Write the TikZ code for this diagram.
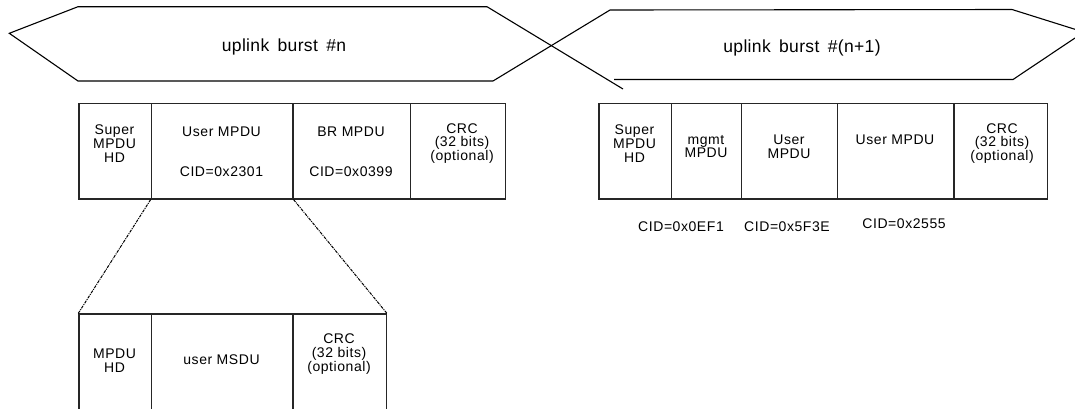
\documentclass[tikz,border=0pt]{standalone}
\usepackage{fontspec}
\setmainfont{Liberation Sans}
\newfontfamily\boxfont[LetterSpace=4]{Liberation Sans}
\newfontfamily\burstfont[LetterSpace=2,WordSpace=1.6]{Liberation Sans}
\begin{document}
\begin{tikzpicture}[x=1pt,y=-1pt,
  hexline/.style={draw=black,line width=1.1pt},
  cell/.style={draw=black!85,line width=1.2pt,inner sep=0pt,anchor=north west},
  txt/.style={inner sep=0pt,align=center,font=\boxfont\fontsize{14}{13.8}\selectfont},
  big/.style={inner sep=0pt,font=\burstfont\fontsize{17.5}{20}\selectfont},
  zoomline/.style={draw=black,line width=1pt,dash pattern=on 3pt off 1pt on 1pt off 1pt}]
\useasboundingbox (0,0) rectangle (1075,408);
\clip (0,0) rectangle (1075,408);
\fill[white] (0,0) rectangle (1075,408);

% burst hexagons
\draw[hexline] (487,6.7) -- (78,6.7) -- (9.3,33.3) -- (78,81) -- (493,81);
\draw[hexline] (487,6.7) -- (623,89);
\draw[hexline] (493,81) -- (610,10) -- (1012,9.5) -- (1075,29.3);
\draw[hexline] (614,79.5) -- (1013,79.5) -- (1075,38);
\node[big] (b1) at (284,47) {uplink burst \#n};
\node[big] (b2) at (802,48) {uplink burst \#(n+1)};

% upper left frame
\node[cell,minimum width=72.4pt,minimum height=95.6pt] (ua) at (78.3,102.7) {};
\node[cell,minimum width=141.6pt,minimum height=95.6pt] (ub) at (150.7,102.7) {};
\node[cell,minimum width=117.7pt,minimum height=95.6pt] (uc) at (292.3,102.7) {};
\node[cell,minimum width=95pt,minimum height=95.6pt] (ud) at (410,102.7) {};
\node[txt] (uat) at (114.5,143.5) {Super\\MPDU\\HD};
\node[txt] (ubt1) at (221.5,131.5) {User MPDU};
\node[txt] (ubt2) at (221.5,172) {CID=0x2301};
\node[txt] (uct1) at (351,131.5) {BR MPDU};
\node[txt] (uct2) at (351,172) {CID=0x0399};
\node[txt] (udt) at (462,143.5) {CRC\\(32 bits)\\(optional)};

% right frame
\node[cell,minimum width=72.4pt,minimum height=95.6pt] (ra) at (598.3,102.7) {};
\node[cell,minimum width=70pt,minimum height=95.6pt] (rb) at (670.7,102.7) {};
\node[cell,minimum width=96pt,minimum height=95.6pt] (rc) at (740.7,102.7) {};
\node[cell,minimum width=116.6pt,minimum height=95.6pt] (rd) at (836.7,102.7) {};
\node[cell,minimum width=93.4pt,minimum height=95.6pt] (re) at (953.3,102.7) {};
\node[txt] (rat) at (634.5,143.5) {Super\\MPDU\\HD};
\node[txt] (rbt) at (706,146.5) {mgmt\\MPDU};
\node[txt] (rct) at (789,146.5) {User\\MPDU};
\node[txt] (rdt) at (895,140) {User MPDU};
\node[txt] (ret) at (1002,143.5) {CRC\\(32 bits)\\(optional)};
\node[txt] (cid1) at (681,227) {CID=0x0EF1};
\node[txt] (cid2) at (787,227) {CID=0x5F3E};
\node[txt] (cid3) at (904,223.5) {CID=0x2555};

% lower frame (runs off the bottom)
\node[cell,minimum width=72.4pt,minimum height=110pt] (la) at (78.3,313.3) {};
\node[cell,minimum width=141.6pt,minimum height=110pt] (lb) at (150.7,313.3) {};
\node[cell,minimum width=93.4pt,minimum height=110pt] (lc) at (292.3,313.3) {};
\node[txt] (lat) at (114.5,360.5) {MPDU\\HD};
\node[txt] (lbt) at (221.5,360) {user MSDU};
\node[txt] (lct) at (339,354) {CRC\\(32 bits)\\(optional)};

% zoom connectors
\draw[zoomline] (ub.south west) -- (la.north west);
\draw[zoomline] (ub.south east) -- (lc.north east);
\end{tikzpicture}
\end{document}
